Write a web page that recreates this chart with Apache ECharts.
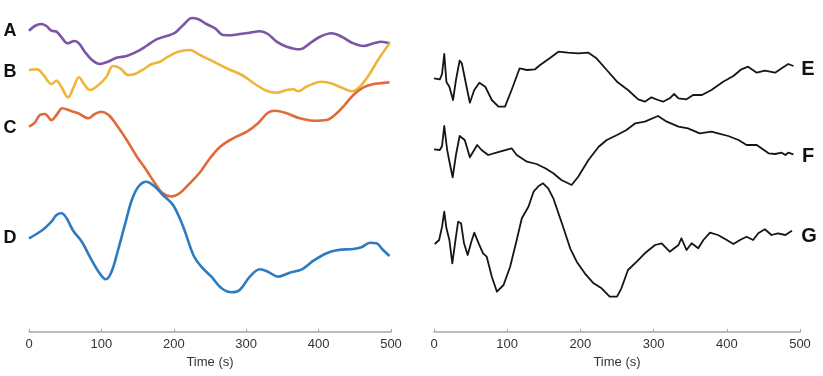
<!DOCTYPE html>
<html>
<head>
<meta charset="utf-8">
<script src="https://cdn.jsdelivr.net/npm/echarts@6/dist/echarts.min.js"></script>
<style>
  html, body { margin: 0; padding: 0; background: #fff; }
  #chart { width: 823px; height: 376px; }
</style>
</head>
<body>
<div id="chart"></div>
<script>
// [time (s), vertical offset, 0 = top of plot]
var traceA = [[0,30.7],[8,26],[17,24],[24,26],[31,30.7],[38,31.7],[45,37.3],[53,43.3],[63,41],[69,43.3],[77,51.7],[87,60],[98,64],[109,61.7],[121,57.7],[135,56],[149,51.7],[162,46],[176,39.3],[190,36],[202,32.7],[213,25],[225,18],[234,19.3],[245,24],[257,28.3],[268,35],[280,35.3],[291,34],[305,32.7],[319,31.3],[330,34],[342,41.7],[356,46.7],[374,49.3],[388,43.3],[402,36.7],[418,33.3],[432,36.7],[446,42.7],[462,46],[476,43.3],[487,41.7],[498,43.3]];
var traceB = [[0,70],[11,69.3],[20,75],[31,84],[38,80.7],[45,87.3],[54,97.3],[61,88.3],[69,77.3],[77,85],[84,90],[96,85],[107,76.7],[116,66],[126,68.3],[137,75],[146,74],[158,69.3],[169,64.3],[181,61.7],[192,56.7],[206,51.7],[222,50],[236,55],[255,61.7],[273,68.3],[294,75],[312,84],[328,90.7],[342,92.7],[356,90],[365,89.3],[372,91.3],[383,86.7],[404,81.7],[420,84],[434,88.3],[446,91.3],[457,86.7],[471,73.3],[482,60],[498,43.3]];
var traceC = [[0,126.7],[8,122.7],[15,115],[22,114],[31,120],[38,115],[46,108.3],[57,110.7],[68,113.3],[82,118.3],[91,114],[100,111.7],[110,115],[121,125],[135,140],[149,156.7],[162,170],[174,183.3],[185,193.3],[197,196.5],[208,193.3],[222,183.3],[236,172.5],[250,158.3],[264,146.7],[282,138.3],[301,131.7],[317,122.7],[330,112.7],[340,110.7],[356,113.3],[374,118.3],[393,120.7],[411,120],[425,113.3],[436,105],[448,95],[462,87.3],[476,84],[485,83.3],[498,82.3]];
var traceD = [[0,238.3],[8,235],[20,229.3],[31,221.7],[38,215],[45,213.3],[52,218.3],[61,230.7],[73,241.7],[84,256.7],[96,271.7],[106,279.3],[114,271.7],[123,250],[133,223.3],[142,200],[151,186.7],[162,181.7],[174,186.7],[185,195],[199,205],[213,226.7],[227,255],[238,266.7],[252,276.7],[266,288.3],[280,292.3],[291,290],[305,276.7],[319,269.3],[330,271.7],[344,276.7],[360,272.7],[377,269.3],[393,260.7],[411,253.3],[427,250],[448,249],[459,247.3],[471,242.7],[480,243.3],[489,250],[498,256]];

var traceE = [[0,78.3],[8,79.3],[11,74],[14,54],[17,82],[21,86.7],[26,100],[30,80],[35,60.7],[38,63.3],[44,85],[49,102.7],[55,90],[62,82.7],[70,86.7],[79,100],[88,106.7],[97,106.7],[106,90],[117,68.3],[127,70],[138,69.3],[145,65],[158,58.3],[170,51.7],[183,52.7],[197,53.3],[211,52.7],[222,58.3],[236,70],[250,81.7],[265,90],[279,99.3],[288,101.7],[297,97.3],[306,100],[313,101.7],[322,98.3],[328,94],[334,98.3],[345,99.3],[354,95],[366,95],[379,90],[395,81.7],[409,76],[420,69.3],[429,66.7],[441,72.7],[452,70.7],[466,72.7],[475,68.3],[484,64],[491,66]];
var traceF = [[0,149.3],[8,150],[11,146],[14,126],[18,150],[22,165],[25.5,177.3],[30,155],[35,136],[42,140],[49,157.3],[59,145],[65,150],[74,155],[90,151.7],[106,148.3],[113,155],[127,161.7],[140,164],[152,168.3],[163,173.3],[174,180],[188,185],[197,176.7],[211,160],[225,146.7],[236,140],[250,135],[263,130],[275,123.3],[288,121.7],[306,116],[318,121.7],[334,126.7],[347,128.3],[363,133.3],[379,131.7],[388,133.3],[402,136],[416,140],[427,145],[441,145],[457,153.3],[466,154],[475,152.7],[480,155],[484,152.7],[491,154.3]];
var traceG = [[1,244],[7,240],[11,226.7],[14,211.7],[17,228.3],[21,240],[25,263.3],[30,236.7],[33,221.7],[37,223.3],[41,243.3],[46,255],[51,241.7],[55,232.7],[61,243.3],[67,253.3],[72,256.7],[79,276.7],[86,291.7],[95,285],[104,266.7],[113,240],[120,218.3],[129,206.7],[136,191.7],[143,186],[149,183.3],[156,188.3],[163,198.3],[170,213.3],[177,228.3],[186,248.3],[195,261.7],[206,273.3],[218,283.3],[229,288.3],[240,296.7],[250,296.7],[256,288.3],[265,270],[277,261.7],[288,253.3],[302,245],[311,243.3],[322,251.7],[334,245],[338,238.3],[345,250],[352,243.3],[361,248.3],[368,240],[377,232.7],[388,235],[400,240],[409,244],[418,240],[427,236.7],[436,240],[443,233.3],[452,229.3],[461,235],[470,233.3],[480,235],[489,230.7]];

var xTicks = [0, 100, 200, 300, 400, 500];

var leftColors = ['#7b55a6', '#efb53a', '#df6a3a', '#2e7bc0'];

var chart = echarts.init(document.getElementById('chart'));

function timeAxis(idx) {
	return {
		type: 'value',
		gridIndex: idx,
		position: 'bottom',
		min: xTicks[0],
		max: xTicks[xTicks.length - 1],
		interval: 100,
		name: 'Time (s)',
		nameLocation: 'middle',
		nameGap: 22,
		nameTextStyle: { fontFamily: 'Liberation Sans', fontSize: 13, color: '#333' },
		axisLine: { show: true, onZero: false, lineStyle: { color: '#a6a6a6', width: 1.5 } },
		axisTick: { show: true, inside: true, length: 3, lineStyle: { color: '#a6a6a6' } },
		axisLabel: { margin: 6, fontFamily: 'Liberation Sans', fontSize: 13, color: '#333' },
		splitLine: { show: false }
	};
}

function offsetAxis(idx) {
	return {
		type: 'value',
		gridIndex: idx,
		inverse: true,
		min: 0,
		max: 332,
		show: false
	};
}

function leftLine(data, color) {
	return {
		type: 'line', xAxisIndex: 0, yAxisIndex: 0, data: data,
		showSymbol: false, smooth: 0.35, silent: true,
		lineStyle: { color: color, width: 2.6 }
	};
}

function rightLine(data) {
	return {
		type: 'line', xAxisIndex: 1, yAxisIndex: 1, data: data,
		showSymbol: false, smooth: false, silent: true,
		lineStyle: { color: '#151515', width: 1.8, join: 'round' }
	};
}

function tag(text, x, y, size, weight) {
	return {
		type: 'text', x: x, y: y,
		style: {
			text: text, fill: '#111', fontFamily: 'Liberation Sans',
			fontSize: size, fontWeight: weight,
			align: 'center', verticalAlign: 'middle'
		}
	};
}

var option = {
	animation: false,
	backgroundColor: '#fff',
	grid: [
		{ left: 29, width: 362, top: 0, height: 332 },
		{ left: 434, width: 366, top: 0, height: 332 }
	],
	xAxis: [timeAxis(0), timeAxis(1)],
	yAxis: [offsetAxis(0), offsetAxis(1)],
	series: [
		leftLine(traceA, leftColors[0]),
		leftLine(traceB, leftColors[1]),
		leftLine(traceC, leftColors[2]),
		leftLine(traceD, leftColors[3]),
		rightLine(traceE),
		rightLine(traceF),
		rightLine(traceG)
	],
	graphic: [
		tag('A', 10, 31, 18, 'bold'),
		tag('B', 10, 72, 18, 'bold'),
		tag('C', 10, 128, 18, 'bold'),
		tag('D', 10, 238, 18, 'bold'),
		tag('E', 808, 69, 20, 'bold'),
		tag('F', 808, 156, 20, 'bold'),
		tag('G', 809, 236, 20, 'bold')
	]
};

chart.setOption(option);
</script>
</body>
</html>
